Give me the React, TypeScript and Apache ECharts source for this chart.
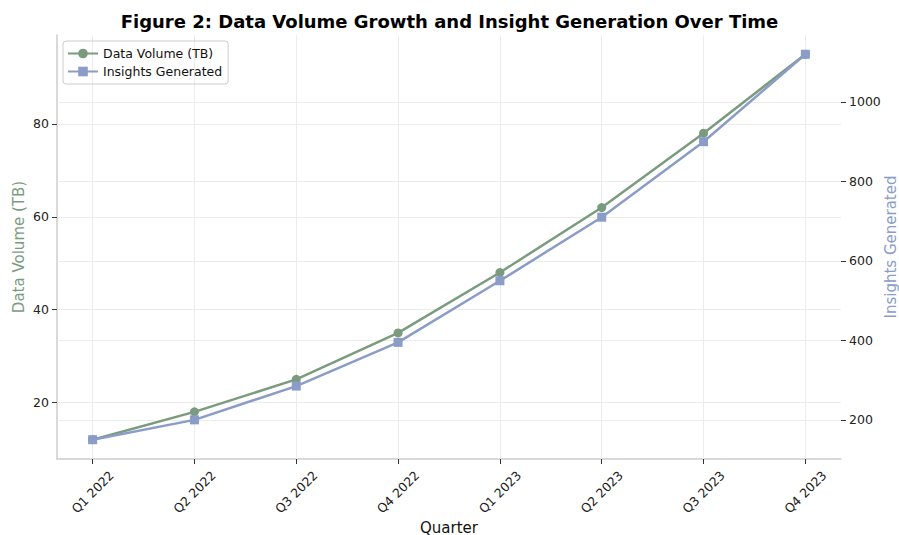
import React, { useEffect, useRef } from "react";
import * as echarts from "echarts";

const categories = ["Q1 2022", "Q2 2022", "Q3 2022", "Q4 2022", "Q1 2023", "Q2 2023", "Q3 2023", "Q4 2023"];
const dataVolume = [12, 18, 25, 35, 48, 62, 78, 95];
const insights = [150, 200, 285, 395, 550, 710, 900, 1120];
const leftTicks = [20, 40, 60, 80];
const rightTicks = [200, 400, 600, 800, 1000];

const GREEN = "#7b9b7f";
const BLUE = "#8a9cc7";
const FONT = "DejaVu Sans";

function pad(arr: number[]) {
  const mn = Math.min(...arr);
  const mx = Math.max(...arr);
  const m = (mx - mn) * 0.05;
  return [mn - m, mx + m];
}

export default function App() {
  const ref = useRef<HTMLDivElement>(null);
  useEffect(() => {
    if (!ref.current) return;
    const chart = echarts.init(ref.current, undefined, { renderer: "svg" });
    const [lmin, lmax] = pad(dataVolume);
    const [rmin, rmax] = pad(insights);
    const xIdx = categories.map((_, i) => i);
    const gridStyle = { color: "#ececec", width: 1, type: "solid" as const };
    chart.setOption({
      animation: false,
      textStyle: { fontFamily: FONT },
      title: {
        text: "Figure 2: Data Volume Growth and Insight Generation Over Time",
        left: "center",
        top: 7,
        textStyle: { fontFamily: FONT, fontSize: 18, fontWeight: "bold", color: "#000" },
      },
      legend: {
        left: 63,
        top: 41,
        orient: "vertical",
        borderColor: "#cccccc",
        borderWidth: 1,
        borderRadius: 3,
        padding: [6, 6, 6, 4],
        itemGap: 5,
        itemWidth: 30,
        itemHeight: 12,
        textStyle: { fontFamily: FONT, fontSize: 12.5, color: "#111" },
        data: ["Data Volume (TB)", "Insights Generated"],
      },
      grid: { left: 57, right: 58, top: 35, bottom: 76, containLabel: false, outerBoundsMode: "none" },
      xAxis: {
        type: "value",
        min: -0.35,
        max: categories.length - 1 + 0.35,
        name: "Quarter",
        nameLocation: "middle",
        nameGap: 61,
        nameMoveOverlap: false,
        nameTextStyle: { fontFamily: FONT, fontSize: 15, color: "#111" },
        axisLine: { show: true, onZero: false, lineStyle: { color: "#cccccc", width: 1.5 } },
        axisTick: { show: true, customValues: xIdx, length: 5, lineStyle: { color: "#333" } },
        axisLabel: {
          customValues: xIdx,
          rotate: 45,
          align: "center",
          verticalAlign: "middle",
          fontFamily: FONT,
          fontSize: 12.5,
          color: "#222",
          margin: 33,
          formatter: (v: number) => categories[Math.round(v)] ?? "",
        },
        splitLine: { show: false },
      },
      yAxis: [
        {
          type: "value",
          min: lmin,
          max: lmax,
          position: "left",
          name: "Data Volume (TB)",
          nameLocation: "middle",
          nameGap: 31,
          nameMoveOverlap: false,
          nameTextStyle: { fontFamily: FONT, fontSize: 15, color: GREEN },
          axisLine: { show: true, onZero: false, lineStyle: { color: "#cccccc", width: 1.5 } },
          axisTick: { show: true, customValues: leftTicks, length: 5, lineStyle: { color: "#333" } },
          axisLabel: {
            customValues: leftTicks,
            fontFamily: FONT,
            fontSize: 12.5,
            color: "#222",
            margin: 8,
            formatter: (v: number) => String(v),
          },
          splitLine: { show: false },
        },
        {
          type: "value",
          min: rmin,
          max: rmax,
          position: "right",
          name: "Insights Generated",
          nameLocation: "middle",
          nameGap: 42,
          nameRotate: 90,
          nameMoveOverlap: false,
          nameTextStyle: { fontFamily: FONT, fontSize: 15, color: BLUE },
          axisLine: { show: false, onZero: false },
          axisTick: { show: true, customValues: rightTicks, length: 5, lineStyle: { color: "#333" } },
          axisLabel: {
            customValues: rightTicks,
            fontFamily: FONT,
            fontSize: 12.5,
            color: "#222",
            margin: 8,
            formatter: (v: number) => String(v),
          },
          splitLine: { show: false },
        },
      ],
      series: [
        {
          name: "Data Volume (TB)",
          type: "line",
          yAxisIndex: 0,
          data: dataVolume.map((v, i) => [i, v]),
          symbol: "circle",
          symbolSize: 9,
          lineStyle: { color: GREEN, width: 2.5 },
          itemStyle: { color: GREEN },
          z: 3,
          markLine: {
            silent: true,
            symbol: "none",
            z: 1,
            label: { show: false },
            lineStyle: gridStyle,
            data: [
              ...leftTicks.map((t) => ({ yAxis: t })),
              ...xIdx.map((i) => ({ xAxis: i })),
            ],
          },
        },
        {
          name: "Insights Generated",
          type: "line",
          yAxisIndex: 1,
          data: insights.map((v, i) => [i, v]),
          symbol: "rect",
          symbolSize: 9,
          lineStyle: { color: BLUE, width: 2.5 },
          itemStyle: { color: BLUE },
          z: 4,
          markLine: {
            silent: true,
            symbol: "none",
            z: 1,
            label: { show: false },
            lineStyle: gridStyle,
            data: rightTicks.map((t) => ({ yAxis: t })),
          },
        },
      ],
    });
    return () => chart.dispose();
  }, []);
  return <div ref={ref} style={{ width: 899, height: 535, position: "absolute", left: 0, top: 0 }} />;
}
